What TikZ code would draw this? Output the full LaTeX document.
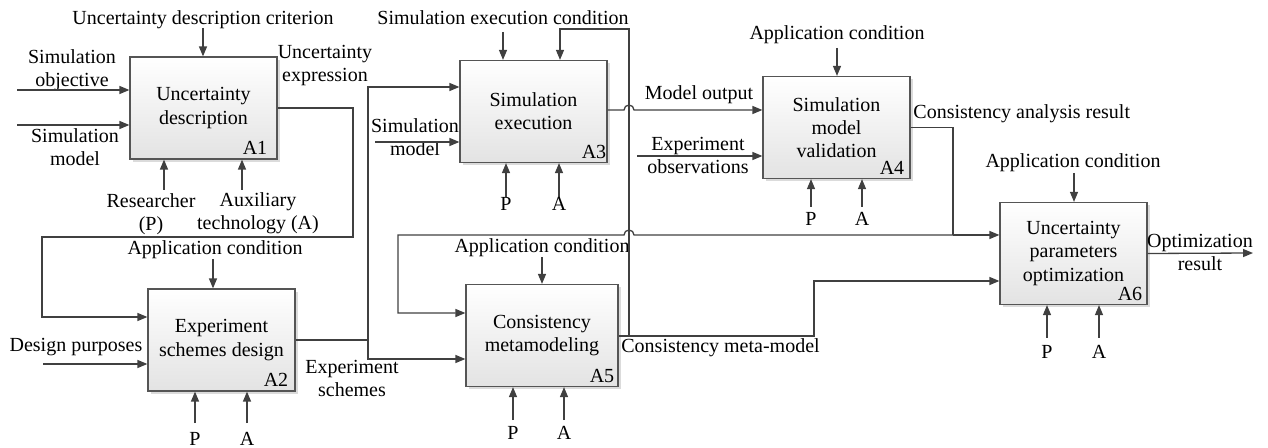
\documentclass[tikz,border=0pt]{standalone}
\usepackage{fontspec}
\setmainfont{Liberation Serif}
\usetikzlibrary{arrows.meta,shadows}

\definecolor{linec}{HTML}{404040}
\definecolor{boxline}{HTML}{555555}

\begin{document}
\begin{tikzpicture}[x=0.5pt,y=-0.5pt,
  font=\fontsize{10}{11.6}\selectfont,
  flow/.style={draw=linec,line width=0.65pt},
  arr/.style={flow,-{Triangle[length=5pt,width=4pt]}},
  func/.style={draw=boxline,line width=0.6pt,top color=white,bottom color=black!11,
    minimum width=73.5pt,minimum height=51pt,align=center,inner sep=0pt,
    drop shadow={shadow xshift=1.5pt,shadow yshift=-1.5pt,fill=black!14,opacity=1}},
  tag/.style={anchor=base east,inner sep=0pt},
  lbl/.style={anchor=base,inner sep=0pt},
  mlbl/.style={anchor=north,align=center,inner sep=0pt}
]
\useasboundingbox (0,0) rectangle (1268,448);

% ---------- activity boxes ----------
\node[func] (a1) at (203.5,108) {Uncertainty\\description};
\node[tag] (a1id) at ([xshift=-5pt,yshift=2.5pt]a1.south east) {A1};

\node[func] (a2) at (221.5,340) {Experiment\\schemes design};
\node[tag] (a2id) at ([xshift=-3.5pt,yshift=2.5pt]a2.south east) {A2};

\node[func] (a3) at (533.5,111.5) {Simulation\\execution};
\node[tag] (a3id) at ([xshift=-0.5pt,yshift=2.5pt]a3.south east) {A3};

\node[func] (a4) at (836.5,127.5) {Simulation\\model\\validation};
\node[tag] (a4id) at ([xshift=-3pt,yshift=2.5pt]a4.south east) {A4};

\node[func,minimum width=76pt] (a5) at (542,335.5) {Consistency\\metamodeling};
\node[tag] (a5id) at ([xshift=-2pt,yshift=2.5pt]a5.south east) {A5};

\node[func] (a6) at (1073.5,253.5) {Uncertainty\\parameters\\optimization};
\node[tag] (a6id) at ([xshift=-2.5pt,yshift=2.5pt]a6.south east) {A6};

% ---------- A1 ----------
\node[lbl] (t1) at (203,25) {Uncertainty description criterion};
\coordinate (t1a) at (203,28);
\draw[arr] (t1a) -- (t1a |- a1.north);

\node[mlbl] (in1) at (72,49.5) {Simulation\\objective};
\coordinate (in1a) at (17,90);
\draw[arr] (in1a) -- (in1a -| a1.west);

\node[mlbl] (in2) at (75,128.5) {Simulation\\model};
\coordinate (in2a) at (17,125);
\draw[arr] (in2a) -- (in2a -| a1.west);

\node[mlbl] (m1p) at (151,193.5) {Researcher\\(P)};
\coordinate (m1pa) at (164,190);
\draw[arr] (m1pa) -- (m1pa |- a1.south);
\node[mlbl] (m1a) at (258,192.5) {Auxiliary\\technology (A)};
\coordinate (m1aa) at (242,190);
\draw[arr] (m1aa) -- (m1aa |- a1.south);

\node[mlbl] (o1) at (325,44.5) {Uncertainty\\expression};
\coordinate (o1r) at (353,237);
\coordinate (o1l) at (42,237);
\coordinate (o1in) at (42,317);
\draw[arr] (a1.east) -| (o1r) -- (o1l) -- (o1in) -- (o1in -| a2.west);

% ---------- A2 ----------
\node[lbl] (t2) at (215,255) {Application condition};
\coordinate (t2a) at (213,259);
\draw[arr] (t2a) -- (t2a |- a2.north);

\node[lbl] (in3) at (76,351) {Design purposes};
\coordinate (in3a) at (43,364);
\draw[arr] (in3a) -- (in3a -| a2.west);

\coordinate (m2pa) at (195,423);
\draw[arr] (m2pa) -- (m2pa |- a2.south);
\node[lbl] (m2p) at (195,445) {P};
\coordinate (m2aa) at (247,423);
\draw[arr] (m2aa) -- (m2aa |- a2.south);
\node[lbl] (m2a) at (247,445) {A};

\node[mlbl] (o2) at (352,359.5) {Experiment\\schemes};
\coordinate (j2) at (368,340);
\coordinate (j2up) at (368,87);
\coordinate (j2dn) at (368,359);
\draw[flow] (a2.east) -- (j2);
\draw[arr] (j2) -- (j2up) -- (j2up -| a3.west);
\draw[arr] (j2) -- (j2dn) -- (j2dn -| a5.west);

% ---------- A3 ----------
\node[lbl] (t3) at (503,25) {Simulation execution condition};
\coordinate (t3a) at (503,32);
\draw[arr] (t3a) -- (t3a |- a3.north);

\node[mlbl] (in4) at (415,118.5) {Simulation\\model};
\coordinate (in4a) at (375,142);
\draw[arr] (in4a) -- (in4a -| a3.west);

\coordinate (m3pa) at (506,197);
\draw[arr] (m3pa) -- (m3pa |- a3.south);
\node[lbl] (m3p) at (506,211) {P};
\coordinate (m3aa) at (559,197);
\draw[arr] (m3aa) -- (m3aa |- a3.south);
\node[lbl] (m3a) at (559,211) {A};

\node[lbl] (o3) at (699,100) {Model output};
\coordinate (h3) at (624,110);
\draw[arr] (a3.east |- h3) -- (h3)
  arc[start angle=180,end angle=0,radius=2.5pt] -- (h3 -| a4.west);

\node[mlbl] (in5) at (698,136.5) {Experiment\\observations};
\coordinate (in5a) at (637,156);
\draw[arr] (in5a) -- (in5a -| a4.west);

% ---------- A4 ----------
\node[lbl] (t4) at (837,40) {Application condition};
\coordinate (t4a) at (837,48);
\draw[arr] (t4a) -- (t4a |- a4.north);

\coordinate (m4pa) at (811,207);
\draw[arr] (m4pa) -- (m4pa |- a4.south);
\node[lbl] (m4p) at (811,226) {P};
\coordinate (m4aa) at (862,207);
\draw[arr] (m4aa) -- (m4aa |- a4.south);
\node[lbl] (m4a) at (862,226) {A};

\node[lbl,anchor=base west] (o4) at (913,119) {Consistency analysis result};
\coordinate (j4) at (953,235);
\coordinate (h4) at (634,235);
\coordinate (j4l) at (398,235);
\coordinate (j4in) at (398,313);
\draw[flow] (a4.east) -| (j4);
\draw[arr] (j4) -- (j4 -| a6.west);
\draw[arr] (j4) -- (h4) arc[start angle=0,end angle=180,radius=2.5pt]
  -- (j4l) -- (j4in) -- (j4in -| a5.west);

% ---------- A5 ----------
\node[lbl] (t5) at (542,253) {Application condition};
\coordinate (t5a) at (542,257);
\draw[arr] (t5a) -- (t5a |- a5.north);

\coordinate (m5pa) at (513,420);
\draw[arr] (m5pa) -- (m5pa |- a5.south);
\node[lbl] (m5p) at (513,439) {P};
\coordinate (m5aa) at (564,420);
\draw[arr] (m5aa) -- (m5aa |- a5.south);
\node[lbl] (m5a) at (564,439) {A};

\node[lbl,anchor=base west] (o5) at (621,353) {Consistency meta-model};
\coordinate (j5) at (629,336);
\coordinate (j5up) at (629,29);
\coordinate (fb) at (560,29);
\coordinate (o5r) at (814,281);
\draw[arr] (a5.east |- j5) -| (o5r) -- (o5r -| a6.west);
\draw[arr] (j5) -- (j5up) -- (fb) -- (fb |- a3.north);

% ---------- A6 ----------
\node[lbl] (t6) at (1073,168) {Application condition};
\coordinate (t6a) at (1074,173);
\draw[arr] (t6a) -- (t6a |- a6.north);

\coordinate (m6pa) at (1047,338);
\draw[arr] (m6pa) -- (m6pa |- a6.south);
\node[lbl] (m6p) at (1047,358) {P};
\coordinate (m6aa) at (1099,338);
\draw[arr] (m6aa) -- (m6aa |- a6.south);
\node[lbl] (m6a) at (1099,358) {A};

\node[mlbl] (o6) at (1200,233.5) {Optimization\\result};
\coordinate (o6a) at (1253,253);
\draw[arr] (a6.east) -- (o6a);
\end{tikzpicture}
\end{document}
